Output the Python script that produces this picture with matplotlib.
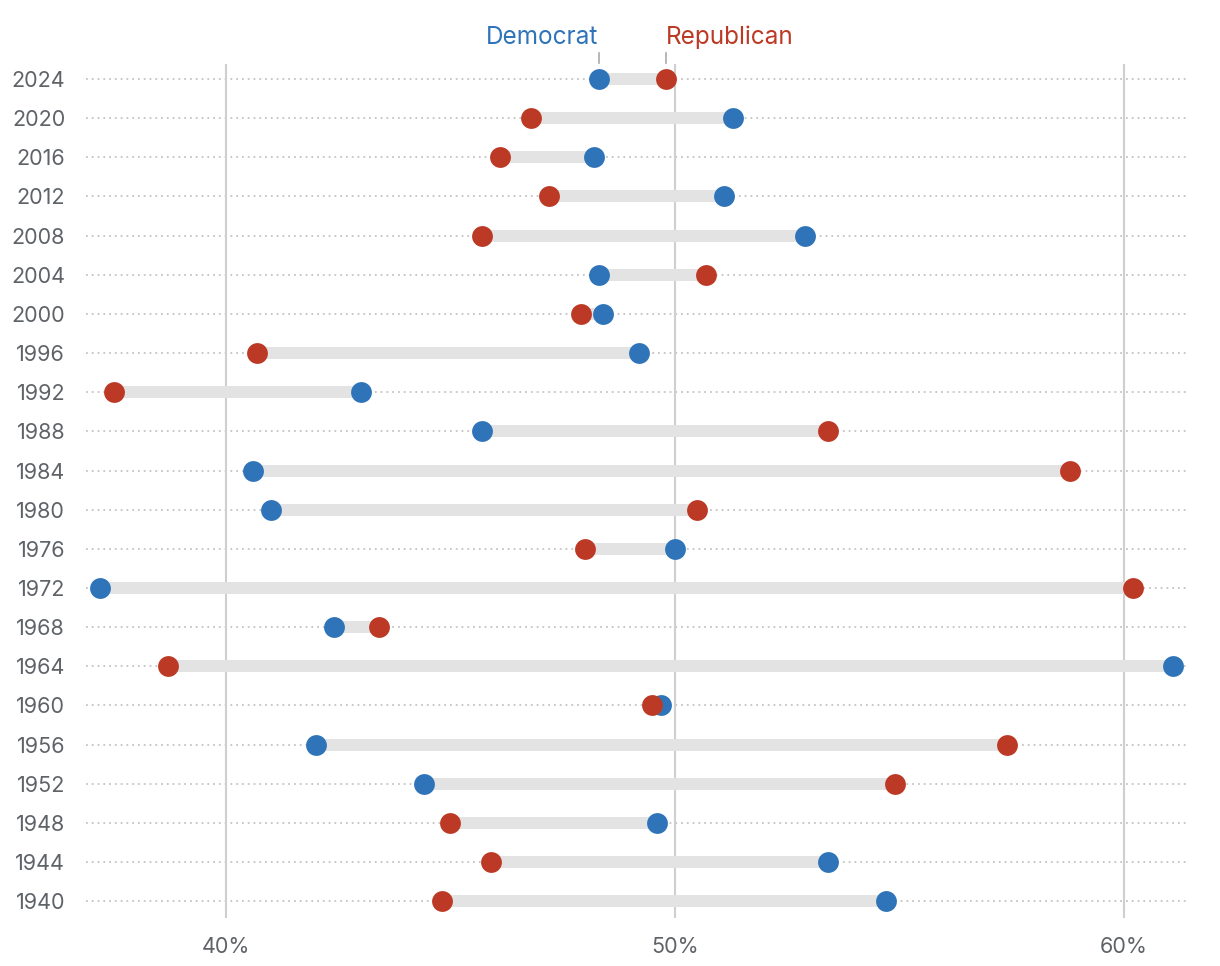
import matplotlib
matplotlib.use("Agg")
import matplotlib.pyplot as plt
import matplotlib.transforms as mtransforms

years = [1940, 1944, 1948, 1952, 1956, 1960, 1964, 1968, 1972, 1976, 1980,
         1984, 1988, 1992, 1996, 2000, 2004, 2008, 2012, 2016, 2020, 2024]
dem = [54.7, 53.4, 49.6, 44.4, 42.0, 49.7, 61.1, 42.4, 37.2, 50.0, 41.0,
       40.6, 45.7, 43.0, 49.2, 48.4, 48.3, 52.9, 51.1, 48.2, 51.3, 48.3]
rep = [44.8, 45.9, 45.0, 54.9, 57.4, 49.5, 38.7, 43.4, 60.2, 48.0, 50.5,
       58.8, 53.4, 37.5, 40.7, 47.9, 50.7, 45.7, 47.2, 46.1, 46.8, 49.8]
xticks = [40, 50, 60]
xtick_labels = ["40%", "50%", "60%"]

BLUE = "#2f74b8"
RED = "#bc3a25"
TXT = "#5f6368"

plt.rcParams['font.family'] = ['Inter', 'DejaVu Sans']

fig = plt.figure(figsize=(12.2, 9.66), dpi=100)
ax = fig.add_axes([86/1220, (966-918)/966, (1188-86)/1220, (918-64)/966])

n = len(years)
ypos = list(range(n))

for x in xticks:
    ax.axvline(x, color="#cfcfcf", lw=1.5, zorder=1)

ax.hlines(ypos, 36.88, 61.43, colors="#c4c4c4", linestyles=(0, (1, 2.2)), lw=1.3, zorder=0)

for y, d, r in zip(ypos, dem, rep):
    ax.plot([d, r], [y, y], color="#e3e3e3", lw=8.6, solid_capstyle="butt", zorder=2)

ax.scatter(dem, ypos, s=225, color=BLUE, zorder=3, linewidths=0)
ax.scatter(rep, ypos, s=225, color=RED, zorder=3, linewidths=0)

ax.set_xlim(36.88, 61.43)
ax.set_ylim(-0.43, n - 1 + 0.383)

ax.set_yticks(ypos)
ax.set_yticklabels([str(y) for y in years])
ax.set_xticks(xticks)
ax.set_xticklabels(xtick_labels)
ax.tick_params(axis="both", length=0, labelsize=15.5, labelcolor=TXT)
ax.tick_params(axis="y", pad=15)
ax.tick_params(axis="x", pad=14)
for s in ax.spines.values():
    s.set_visible(False)

trans = mtransforms.blended_transform_factory(ax.transData, ax.transAxes)
d_last, r_last = dem[-1], rep[-1]
for xv in (d_last, r_last):
    ax.plot([xv, xv], [1.001, 1.0129], transform=trans, color="#aaaaaa", lw=1.2, clip_on=False)
ax.text(d_last, 1.031, "Democrat", transform=trans, ha="right", va="center",
        color=BLUE, fontsize=17.5)
ax.text(r_last, 1.031, "Republican", transform=trans, ha="left", va="center",
        color=RED, fontsize=17.5)

fig.savefig("out.png", dpi=100)
